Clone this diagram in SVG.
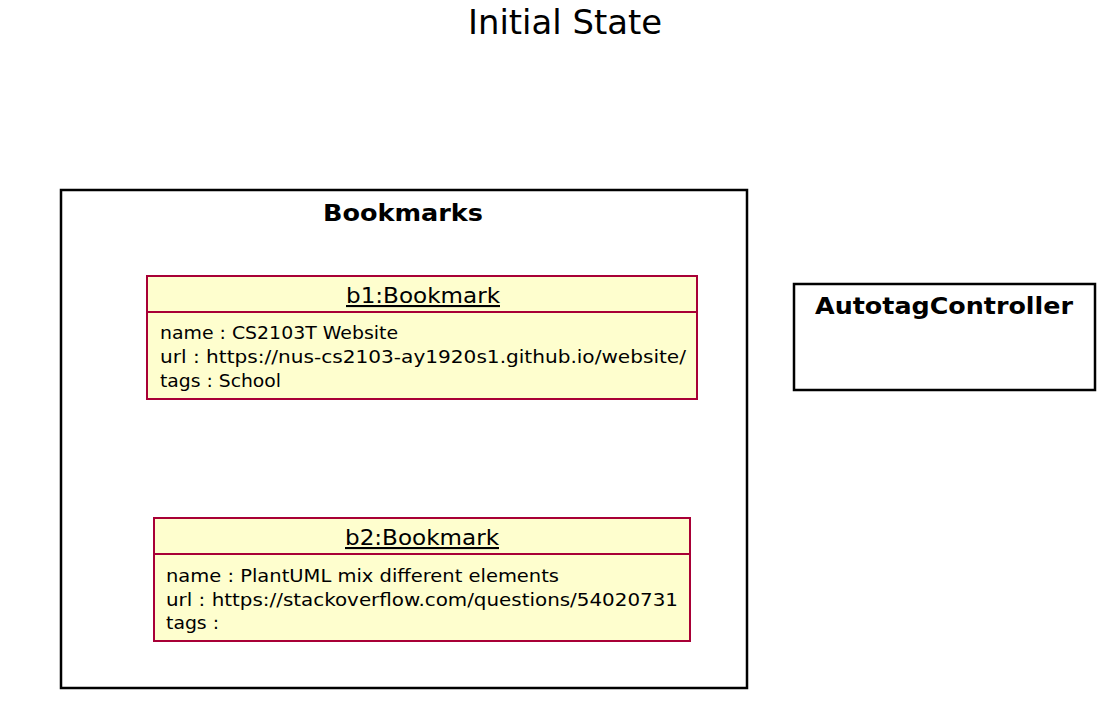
<svg xmlns="http://www.w3.org/2000/svg" width="1114" height="708" viewBox="0 0 1114 708">
<style>
text{font-family:"DejaVu Sans","Liberation Sans",sans-serif;fill:#000}
.obj{fill:#FEFECE;stroke:#A80036;stroke-width:2}
.sep{stroke:#A80036;stroke-width:2}
.box{fill:#fff;stroke:#000;stroke-width:2.5}
.title{font-size:21px;text-anchor:middle;text-decoration:underline}
.attr{font-size:18px}
.bold{font-weight:bold;font-size:23px;text-anchor:middle}
</style>
<rect width="1114" height="708" fill="#fff"/>
<text x="565" y="34" font-size="34" text-anchor="middle" textLength="194" lengthAdjust="spacingAndGlyphs">Initial State</text>
<g id="Bookmarks">
<rect class="box" x="61" y="190" width="686" height="498"/>
<text class="bold" x="403" y="221" textLength="160" lengthAdjust="spacingAndGlyphs">Bookmarks</text>
</g>
<g id="b1">
<rect class="obj" x="147" y="276" width="550" height="123"/>
<line class="sep" x1="147" y1="312" x2="697" y2="312"/>
<text class="title" x="423" y="303" textLength="154" lengthAdjust="spacingAndGlyphs">b1:Bookmark</text>
<text class="attr" x="160" y="339" textLength="238" lengthAdjust="spacingAndGlyphs">name : CS2103T Website</text>
<text class="attr" x="160" y="363" textLength="526" lengthAdjust="spacingAndGlyphs">url : https://nus-cs2103-ay1920s1.github.io/website/</text>
<text class="attr" x="160" y="387" textLength="121" lengthAdjust="spacingAndGlyphs">tags : School</text>
</g>
<g id="b2">
<rect class="obj" x="154" y="518" width="536" height="123"/>
<line class="sep" x1="154" y1="554" x2="690" y2="554"/>
<text class="title" x="422" y="545" textLength="154" lengthAdjust="spacingAndGlyphs">b2:Bookmark</text>
<text class="attr" x="166" y="582" textLength="393" lengthAdjust="spacingAndGlyphs">name : PlantUML mix different elements</text>
<text class="attr" x="166" y="606" textLength="512" lengthAdjust="spacingAndGlyphs">url : https://stackoverflow.com/questions/54020731</text>
<text class="attr" x="166" y="629" textLength="53" lengthAdjust="spacingAndGlyphs">tags :</text>
</g>
<g id="AutotagController">
<rect class="box" x="794" y="284" width="301" height="106"/>
<text class="bold" x="944" y="314" textLength="258" lengthAdjust="spacingAndGlyphs">AutotagController</text>
</g>
<g id="connectors"></g>
</svg>
